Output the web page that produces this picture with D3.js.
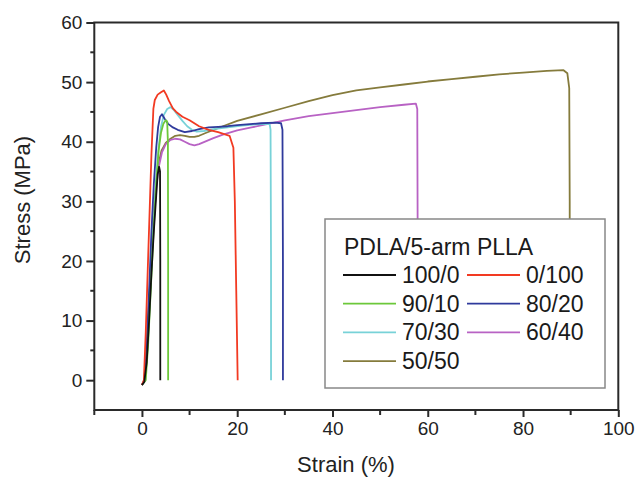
<!DOCTYPE html>
<html><head><meta charset="utf-8">
<script src="https://cdn.jsdelivr.net/npm/d3@7"></script>
<style>
html,body{margin:0;padding:0;background:#fff;}
svg{display:block;font-family:"Liberation Sans",Arial,sans-serif;}
</style></head>
<body><svg id="chart" width="638" height="481"></svg>
<script>
// ---- data ----
const seriesNames = ["100/0","0/100","90/10","80/20","70/30","60/40","50/50"];
const xTicks = [0,20,40,60,80,100];
const yTicks = [0,10,20,30,40,50,60];
const legendTitle = "PDLA/5-arm PLLA";

const strain_100_0 = [0,0.5,1,1.5,2,2.5,3,3.3,3.6,3.8,3.85,3.85];
const stress_100_0 = [-0.8,-0.3,3,10,18,25,31,34.5,35.8,35,20,0];

const strain_0_100 = [0,0.4,0.8,1.2,1.6,2,2.4,2.7,3.3,4,4.6,5.1,5.7,6.5,7.2,8.5,10,12,14,16,18.4,19.2,19.5,19.8,20.1];
const stress_0_100 = [-0.8,0,8,18,28,38,45.5,47,47.9,48.3,48.6,47.9,46.8,45.6,45,44.2,43.6,42.6,42,41.6,41,39,30,15,0];

const strain_90_10 = [0,0.8,1.3,1.9,2.5,3,3.5,4,4.5,5,5.3,5.45,5.5,5.5];
const stress_90_10 = [-0.8,0,6,16,26,33,38.5,41.5,43,43.6,43.4,40,20,0];

const strain_80_20 = [0,0.6,1,1.5,2,2.5,3,3.4,3.8,4.2,4.8,5.5,6.5,7.5,9,10.5,12,14,16,18,20,22,25,28,29.2,29.5,29.6,29.6];
const stress_80_20 = [-0.8,0,6,15,25,33,39,42.5,44.2,44.6,43.8,43,42.4,42,41.6,41.8,42.1,42.4,42.5,42.6,42.8,42.9,43.1,43.2,43.1,42,20,0];

const strain_70_30 = [0,0.7,1.2,1.8,2.4,3,3.5,4,4.6,5.3,6,6.6,7.5,8.5,9.5,10.5,11.5,13,15,18,21,24,26.8,27,27.1,27.1];
const stress_70_30 = [-0.8,0,6,16,26,34,39,42.5,44.5,45.5,45.8,45.4,44.5,43.5,42.6,42,41.7,41.8,42.1,42.4,42.7,42.9,43,42,20,0];

const strain_60_40 = [0,0.6,1.1,1.6,2.1,2.6,3.1,3.6,4.2,5,6,7,8,9,10,11,12,13.5,15,17,20,23,26,30,35,40,45,50,55,57.5,57.8,57.9,57.9];
const stress_60_40 = [-0.8,0,5,13,21,28,33,36,38.2,39.6,40.3,40.5,40.4,40,39.6,39.4,39.6,40.1,40.6,41.2,41.9,42.4,42.9,43.6,44.3,44.8,45.3,45.8,46.2,46.4,45.5,20,0];

const strain_50_50 = [0,0.5,1,1.5,2,2.5,3,3.5,4.1,5,6,7,8,9,10,11,12,13.5,15,17,20,25,30,35,40,45,50,55,60,65,70,75,80,85,88.5,89.3,89.7,89.8,89.8];
const stress_50_50 = [-0.8,0,5,13,21,28,33,36.3,38.5,39.8,40.5,41,41.1,41,40.8,40.8,41,41.5,42,42.6,43.5,44.6,45.7,46.8,47.8,48.6,49.1,49.6,50.1,50.5,50.9,51.3,51.6,51.9,52,51.5,49,30,0];

const seriesStrain = [strain_100_0,strain_0_100,strain_90_10,strain_80_20,strain_70_30,strain_60_40,strain_50_50];
const seriesStress = [stress_100_0,stress_0_100,stress_90_10,stress_80_20,stress_70_30,stress_60_40,stress_50_50];

// ---- styles ----
const colors = ["#111111","#f23a22","#6cc83a","#2f3a9c","#78d2d8","#b862c4","#857b3c"];

const svg = d3.select("#chart");
const L = 94.3, R = 618.3, T = 22.5, B = 410;
const x = d3.scaleLinear().domain([-10,100]).range([L,R]);
const y = d3.scaleLinear().domain([-5,60]).range([B,T]);

const line = d3.line().x(d=>x(d[0])).y(d=>y(d[1]));

// draw curves (back to front)
const order = [6,5,4,3,2,1,0];
order.forEach(i=>{
  const pts = seriesStrain[i].map((s,k)=>[s, seriesStress[i][k]]);
  svg.append("path").attr("d", line(pts)).attr("fill","none")
    .attr("stroke", colors[i]).attr("stroke-width",1.8).attr("stroke-linejoin","round");
});

// frame
svg.append("rect").attr("x",L).attr("y",T).attr("width",R-L).attr("height",B-T)
  .attr("fill","none").attr("stroke","#2a2a2a").attr("stroke-width",2);

// x axis
const xAxis = d3.axisBottom(x).tickValues(xTicks).tickSize(7).tickPadding(5).tickFormat(d3.format("d"));
const gx = svg.append("g").attr("transform",`translate(0,${B})`).call(xAxis);
gx.select(".domain").remove();
gx.selectAll(".tick line").attr("stroke","#2a2a2a").attr("stroke-width",2);
gx.selectAll("text").attr("font-size",19).attr("fill","#222").attr("font-family","Liberation Sans, Arial, sans-serif");
const xMinor = d3.range(-10,101,10).filter(v=>!xTicks.includes(v));
svg.append("g").selectAll("line").data(xMinor).join("line")
  .attr("x1",d=>x(d)).attr("x2",d=>x(d)).attr("y1",B).attr("y2",B+5)
  .attr("stroke","#2a2a2a").attr("stroke-width",2);

// y axis
const yAxis = d3.axisLeft(y).tickValues(yTicks).tickSize(8).tickPadding(4).tickFormat(d3.format("d"));
const gy = svg.append("g").attr("transform",`translate(${L},0)`).call(yAxis);
gy.select(".domain").remove();
gy.selectAll(".tick line").attr("stroke","#2a2a2a").attr("stroke-width",2);
gy.selectAll("text").attr("font-size",19).attr("fill","#222").attr("font-family","Liberation Sans, Arial, sans-serif");
const yMinor = d3.range(-5,61,5).filter(v=>!yTicks.includes(v) && v>-5);
svg.append("g").selectAll("line").data(yMinor).join("line")
  .attr("x1",L-4).attr("x2",L).attr("y1",d=>y(d)).attr("y2",d=>y(d))
  .attr("stroke","#2a2a2a").attr("stroke-width",2);

// axis titles
svg.append("text").attr("x",346).attr("y",472).attr("text-anchor","middle")
  .attr("font-size",22).attr("fill","#222").text("Strain (%)");
svg.append("text").attr("transform","translate(30,200) rotate(-90)").attr("text-anchor","middle")
  .attr("font-size",22).attr("fill","#222").text("Stress (MPa)");

// legend
const lg = svg.append("g");
lg.append("rect").attr("x",325).attr("y",219).attr("width",280).attr("height",169)
  .attr("fill","#fff").attr("stroke","#888").attr("stroke-width",1.5);
lg.append("text").attr("x",344).attr("y",255).attr("font-size",23).attr("fill","#1a1a1a").text(legendTitle);
seriesNames.forEach((name,i)=>{
  const col = i%2, row = Math.floor(i/2);
  const lx = col===0 ? 343 : 467;
  const ly = 283 + row*28.7;
  lg.append("line").attr("x1",lx).attr("x2",lx+53).attr("y1",ly-8).attr("y2",ly-8)
    .attr("stroke",colors[i]).attr("stroke-width",1.8);
  lg.append("text").attr("x",lx+59).attr("y",ly).attr("font-size",23).attr("fill","#1a1a1a").text(name);
});
</script></body></html>
